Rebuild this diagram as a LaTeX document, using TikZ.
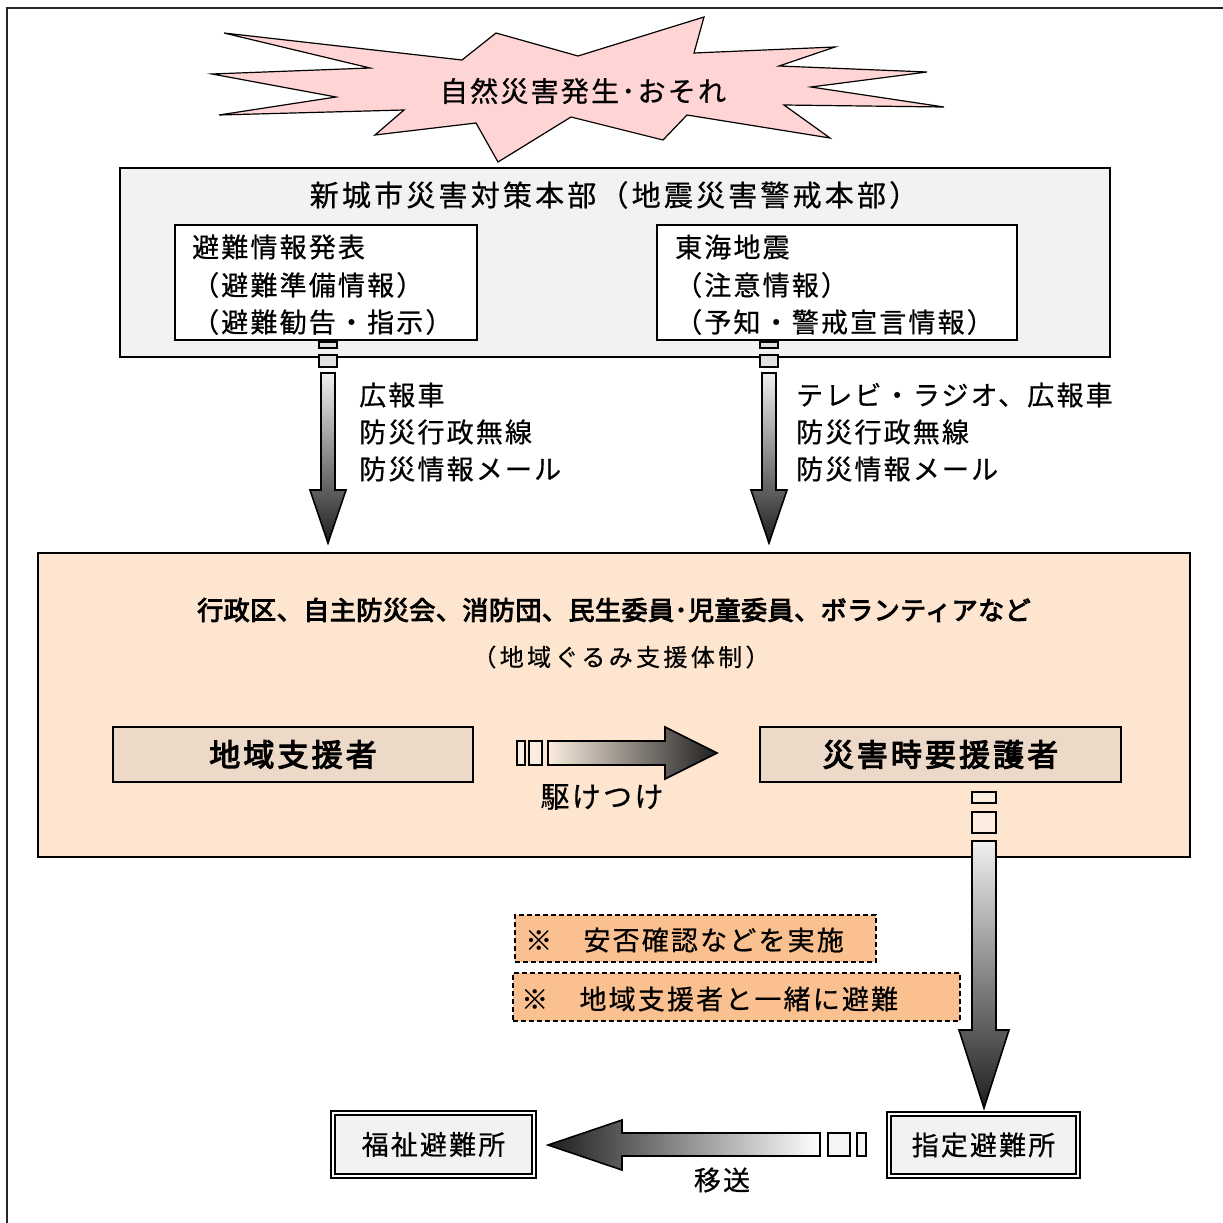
\documentclass[tikz,border=0pt]{standalone}
\usepackage{fontspec}
\newfontfamily\cjk{Noto Sans CJK JP}[LetterSpace=8,FakeBold=0.6]
\newfontfamily\cjkt{Noto Sans CJK JP}[LetterSpace=11,FakeBold=0.6]
\newfontfamily\cjks{Noto Sans CJK JP}[LetterSpace=14,FakeBold=0.5]
\newfontfamily\cjkb{Noto Sans CJK JP}[FakeBold=3.5,LetterSpace=2]
\newfontfamily\cjkbb{Noto Sans CJK JP}[FakeBold=3.5,LetterSpace=10]
\definecolor{burstpink}{RGB}{255,212,212}
\definecolor{hqgray}{RGB}{242,242,242}
\definecolor{peach}{RGB}{253,229,207}
\definecolor{tanbox}{RGB}{236,217,200}
\definecolor{orangebox}{RGB}{250,192,143}
\definecolor{lightpeach}{RGB}{250,236,222}
\begin{document}
\begin{tikzpicture}[x=1pt,y=-1pt,
  txt/.style={inner sep=0pt, font=\fontsize{27}{30}\cjk},
  plainbox/.style={draw=black, line width=1.2pt, inner sep=0pt},
  boldbox/.style={draw=black, line width=2.5pt, fill=tanbox, inner sep=0pt, font=\fontsize{31}{34}\cjkbb},
  notebox/.style={draw=black, dash pattern=on 5pt off 3pt, line width=1.2pt, fill=orangebox, inner sep=0pt},
  shelter/.style={draw=black, line width=1.6pt, double=white, double distance=2.2pt, fill=hqgray, inner sep=0pt, font=\fontsize{27}{30}\cjk},
  blockarrow/.style={draw=black, line width=1.6pt},
  stub/.style={draw=black, line width=1.6pt}
]
\useasboundingbox (0,0) rectangle (1223,1223);
\fill[white] (0,0) rectangle (1223,1223);

% outer frame
\draw[line width=2.2pt, black!85] (7,1223) -- (7,8) -- (1223,8);

% burst
\draw[line width=1.2pt, fill=burstpink, line join=miter]
  (224,33) -- (462,60) -- (496,33) -- (578,56) -- (704,17) -- (694,53) --
  (835,47) -- (779,66) -- (927,72) -- (811,87) -- (944,107) -- (784,105) --
  (830,138) -- (687,115) -- (663,140) -- (571,117) -- (498,162) -- (476,123) --
  (375,135) -- (404,110) -- (219,115) -- (336,97) -- (212,74) -- (370,68) -- cycle;
\node[txt, font=\fontsize{28}{30}\cjk] (burst) at (583,91) {自然災害発生･おそれ};

% headquarters
\node[plainbox, fill=hqgray, minimum width=990, minimum height=189] (hq) at (615,262.5) {};
\node[txt, font=\fontsize{29}{30}\cjkt] (hqtitle) at (614,195) {新城市災害対策本部（地震災害警戒本部）};
\node[plainbox, fill=white, minimum width=302, minimum height=115] (evac) at (326,282.5) {};
\node[txt, anchor=west] (evac1) at (192,247) {避難情報発表};
\node[txt, anchor=west] (evac2) at (192,285) {（避難準備情報）};
\node[txt, anchor=west] (evac3) at (192,322) {（避難勧告・指示）};
\node[plainbox, fill=white, minimum width=360, minimum height=115] (tokai) at (837,282.5) {};
\node[txt, anchor=west] (tokai1) at (675,247) {東海地震};
\node[txt, anchor=west] (tokai2) at (675,285) {（注意情報）};
\node[txt, anchor=west] (tokai3) at (675,322) {（予知・警戒宣言情報）};

% down arrows from HQ
\foreach \cx in {328,769}{
  \filldraw[stub, fill=black!12] (\cx-9,342) rectangle (\cx+9,348);
  \filldraw[stub, fill=black!12] (\cx-9,355) rectangle (\cx+9,367);
  \shadedraw[blockarrow, top color=black!6, bottom color=black!88]
    (\cx-7,373) -- (\cx+7,373) -- (\cx+7,490) -- (\cx+18,490) -- (\cx,543) --
    (\cx-18,490) -- (\cx-7,490) -- cycle;
}
\node[txt, anchor=west] (m1a) at (359,395) {広報車};
\node[txt, anchor=west] (m1b) at (359,432) {防災行政無線};
\node[txt, anchor=west] (m1c) at (359,469) {防災情報メール};
\node[txt, anchor=west] (m2a) at (796,395) {テレビ・ラジオ、広報車};
\node[txt, anchor=west] (m2b) at (796,432) {防災行政無線};
\node[txt, anchor=west] (m2c) at (796,469) {防災情報メール};

% community
\node[plainbox, fill=peach, minimum width=1152, minimum height=304] (comm) at (614,705) {};
\node[txt, font=\fontsize{26}{30}\cjkb] (commt) at (614,610) {行政区、自主防災会、消防団、民生委員･児童委員、ボランティアなど};
\node[txt, font=\fontsize{24}{26}\cjks] (comms) at (621,657) {（地域ぐるみ支援体制）};
\node[boldbox, minimum width=360, minimum height=55] (sup) at (293,754.5) {地域支援者};
\node[boldbox, minimum width=361, minimum height=55] (need) at (940.5,754.5) {災害時要援護者};

% right arrow
\filldraw[stub, fill=lightpeach] (517,741) rectangle (525,765);
\filldraw[stub, fill=lightpeach] (529,741) rectangle (542,765);
\shadedraw[blockarrow, left color=lightpeach, right color=black!88]
  (548,741) -- (665,741) -- (665,727) -- (717,753) -- (665,779) -- (665,765) -- (548,765) -- cycle;
\node[txt, font=\fontsize{29}{30}\cjk] (rush) at (602,797) {駆けつけ};

% down arrow from need
\filldraw[stub, fill=lightpeach] (972,792) rectangle (996,803);
\filldraw[stub, fill=lightpeach] (972,812) rectangle (996,833);
\shadedraw[blockarrow, top color=black!6, bottom color=black!88]
  (972,841) -- (996,841) -- (996,1030) -- (1009,1030) -- (984,1108) --
  (959,1030) -- (972,1030) -- cycle;

% notes
\node[notebox, minimum width=361, minimum height=47] (note1) at (695.5,938.5) {};
\node[txt, anchor=west] (note1t) at (525,940) {※　安否確認などを実施};
\node[notebox, minimum width=447, minimum height=48] (note2) at (736.5,997) {};
\node[txt, anchor=west] (note2t) at (521,999) {※　地域支援者と一緒に避難};

% shelters
\node[shelter, minimum width=189, minimum height=62] (desig) at (983.5,1145) {指定避難所};
\node[shelter, minimum width=201, minimum height=63] (welf) at (433.5,1144.5) {福祉避難所};

% left arrow
\filldraw[stub, fill=black!4] (828,1133) rectangle (850,1156);
\filldraw[stub, fill=black!4] (857,1133) rectangle (866,1156);
\shadedraw[blockarrow, left color=black!88, right color=white]
  (820,1133) -- (622,1133) -- (622,1120) -- (548,1145) -- (622,1170) -- (622,1156) -- (820,1156) -- cycle;
\node[txt] (trans) at (722,1180) {移送};
\end{tikzpicture}
\end{document}
